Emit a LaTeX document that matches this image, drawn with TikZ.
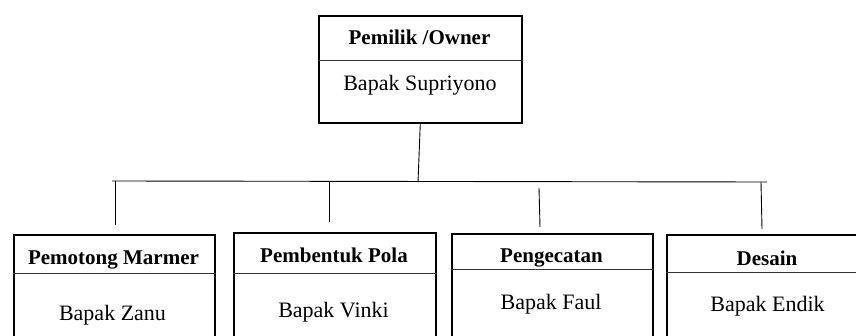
\documentclass[tikz,border=0pt]{standalone}
\usepackage{fontspec}
\setmainfont{Liberation Serif}
\tikzset{
  unitbox/.style={draw, line width=1.6pt, rectangle, inner sep=0pt, anchor=north west},
  divline/.style={line width=0.8pt, draw=black!80},
  conn/.style={line width=0.9pt},
  ttl/.style={font=\fontsize{21}{25}\selectfont\bfseries, anchor=base, inner sep=0pt},
  nm/.style={font=\fontsize{22}{26}\selectfont, anchor=base, inner sep=0pt},
}
\begin{document}
\begin{tikzpicture}[x=1pt,y=-1pt]
\useasboundingbox (0,0) rectangle (856,336);
\clip (0,0) rectangle (856,336);
% owner
\node[unitbox, minimum width=203pt, minimum height=107pt] (owner) at (318,15) {};
\draw[divline] ([yshift=-45pt]owner.north west) -- ([yshift=-45pt]owner.north east);
\node[ttl] (t0) at (419.5,45) {Pemilik /Owner};
\node[nm] (n0) at (420,91) {Bapak Supriyono};
% boxes
\node[unitbox, minimum width=201pt, minimum height=130pt] (b1) at (13,234) {};
\node[unitbox, minimum width=202pt, minimum height=130pt] (b2) at (233,232) {};
\node[unitbox, minimum width=201pt, minimum height=130pt] (b3) at (451,233) {};
\node[unitbox, minimum width=201pt, minimum height=130pt] (b4) at (666,234) {};
\draw[divline] ([yshift=-39pt]b1.north west) -- ([yshift=-39pt]b1.north east);
\draw[divline] ([yshift=-41pt]b2.north west) -- ([yshift=-41pt]b2.north east);
\draw[divline] ([yshift=-36pt]b3.north west) -- ([yshift=-36pt]b3.north east);
\draw[divline] ([yshift=-38pt]b4.north west) -- ([yshift=-38pt]b4.north east);
\node[ttl] (t1) at (113.5,265) {Pemotong Marmer};
\node[nm] (n1) at (112.5,320) {Bapak Zanu};
\node[ttl] (t2) at (334,263) {Pembentuk Pola};
\node[nm] (n2) at (333.5,318) {Bapak Vinki};
\node[ttl] (t3) at (551.5,263) {Pengecatan};
\node[nm] (n3) at (551,309) {Bapak Faul};
\node[ttl] (t4) at (767,266) {Desain};
\node[nm] (n4) at (767.5,312) {Bapak Endik};
% connectors
\coordinate (busL) at (112,181);
\coordinate (busR) at (767,182);
\coordinate (busO) at (418,182);
\coordinate (v1a) at (115,181);
\coordinate (v1b) at (115,225);
\coordinate (v2a) at (329,182);
\coordinate (v2b) at (329,222);
\coordinate (v3a) at (539,188);
\coordinate (v3b) at (540,227);
\coordinate (v4a) at (761,182);
\coordinate (v4b) at (762,229);
\draw[conn] (busL) -- (busR);
\draw[conn] (owner.south) -- (busO);
\draw[conn] (v1a) -- (v1b);
\draw[conn] (v2a) -- (v2b);
\draw[conn] (v3a) -- (v3b);
\draw[conn] (v4a) -- (v4b);
\end{tikzpicture}
\end{document}
